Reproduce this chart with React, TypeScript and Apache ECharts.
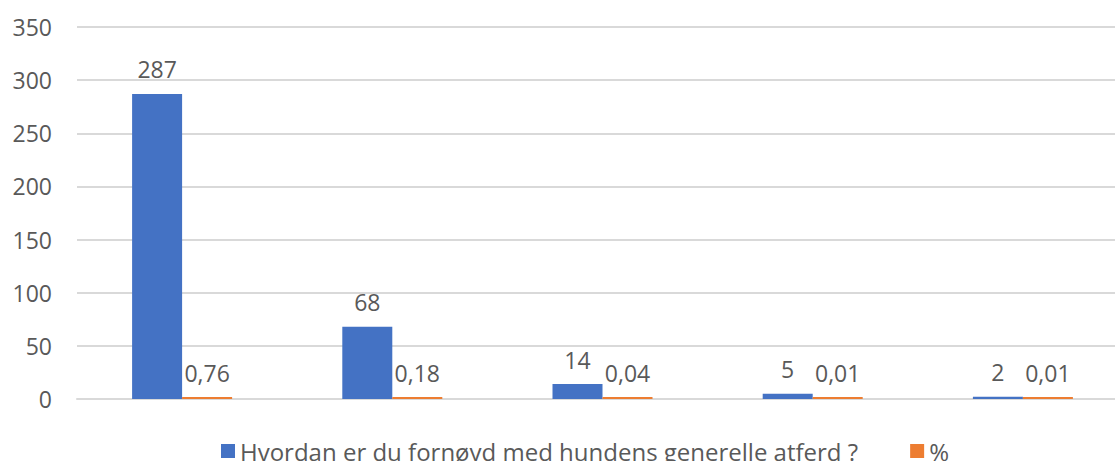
import React, { useEffect, useRef } from "react";
import * as echarts from "echarts";

const categories = ["Svært fornøyd", "Fornøyd", "Nøytral", "Lite fornøyd", "Misfornøyd"];
const seriesNames = ["Hvordan er du fornøyd med hundens generelle atferd ?", "%"];
const countValues = [287, 68, 14, 5, 2];
const percentValues = [0.76, 0.18, 0.04, 0.01, 0.01];
const yTicks = { min: 0, max: 350, interval: 50 };

const FONT = "Open Sans";
const TEXT = "#595959";

export default function App() {
  const ref = useRef<HTMLDivElement>(null);
  useEffect(() => {
    document.body.style.margin = "0";
    const chart = echarts.init(ref.current!, null, { renderer: "svg" });
    const fmt = (p: any) => String(p.value).replace(".", ",");
    const label = {
      show: true,
      position: "top",
      distance: 13,
      color: TEXT,
      fontSize: 23,
      fontFamily: FONT,
      formatter: fmt,
    };
    chart.setOption({
      animation: false,
      textStyle: { fontFamily: FONT },
      grid: { left: 77, top: 27, width: 1051, height: 372, containLabel: false },
      xAxis: {
        type: "category",
        data: categories,
        axisLine: { lineStyle: { color: "#d9d9d9", width: 2 } },
        axisTick: { show: false },
        axisLabel: { show: false },
      },
      yAxis: {
        type: "value",
        min: yTicks.min,
        max: yTicks.max,
        interval: yTicks.interval,
        axisLine: { show: false },
        axisTick: { show: false },
        splitLine: { lineStyle: { color: "#d9d9d9", width: 2 } },
        axisLabel: { color: TEXT, fontSize: 23, fontFamily: FONT, margin: 25 },
      },
      legend: {
        data: seriesNames,
        left: 216,
        top: 434,
        itemWidth: 14,
        itemHeight: 14,
        itemGap: 52,
        icon: "rect",
        textStyle: { color: TEXT, fontSize: 24, fontFamily: FONT },
      },
      series: [
        {
          name: seriesNames[0],
          type: "bar",
          data: countValues,
          barWidth: 50,
          barGap: "0%",
          barMinHeight: 2,
          itemStyle: { color: "#4472c4" },
          label,
        },
        {
          name: seriesNames[1],
          type: "bar",
          data: percentValues,
          barWidth: 50,
          barGap: "0%",
          barMinHeight: 2,
          itemStyle: { color: "#ed7d31" },
          label,
        },
      ],
    });
    return () => chart.dispose();
  }, []);
  return (
    <div style={{ width: 1115, height: 461, overflow: "hidden" }}>
      <div ref={ref} style={{ width: 1140, height: 461 }} />
    </div>
  );
}
